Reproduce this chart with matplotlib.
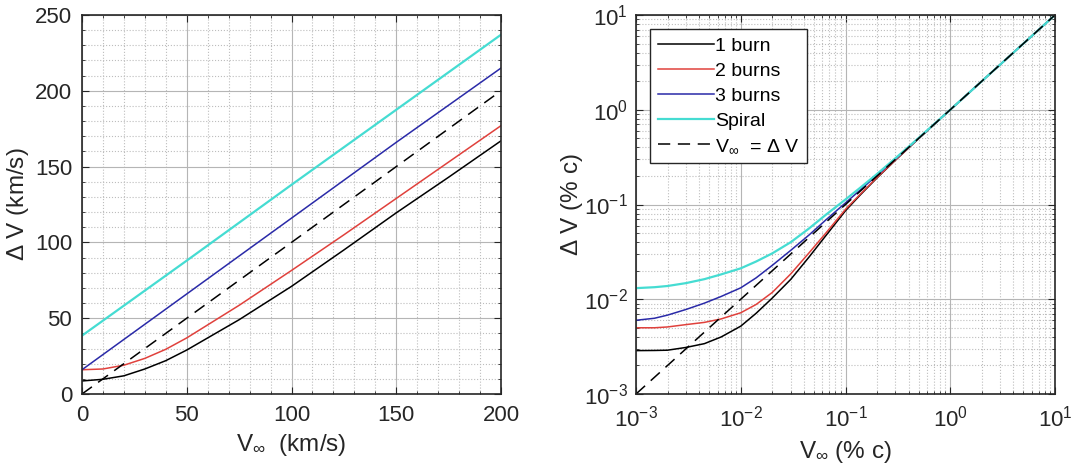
import matplotlib.pyplot as plt
from matplotlib.ticker import MultipleLocator, LogLocator, NullFormatter

plt.rcParams['font.family'] = ['Liberation Sans', 'DejaVu Sans']
plt.rcParams['mathtext.fontset'] = 'custom'
plt.rcParams['mathtext.rm'] = 'Liberation Sans'
plt.rcParams['mathtext.it'] = 'Liberation Sans:italic'
plt.rcParams['mathtext.sf'] = 'Liberation Sans'

# left panel, km/s
v_black = [0, 10, 20, 30, 40, 50, 75, 100, 125, 150, 175, 200]
dv_black = [8.6, 9.7, 12, 16.5, 22, 29, 49, 71, 95, 119.5, 143, 167]
v_red = [0, 10, 20, 30, 40, 50, 75, 100, 125, 150, 175, 200]
dv_red = [16, 16.5, 19, 23.5, 29.5, 37, 58.5, 81.5, 105, 129, 153, 177]
v_blue = [0, 50, 100, 150, 200]
dv_blue = [16, 66, 116, 166, 215]
v_spiral = [0, 50, 100, 150, 200]
dv_spiral = [38.5, 88, 138, 187.5, 237]
v_line = [0, 200]

# right panel, % c
vc = [0.001, 0.0015, 0.002, 0.003, 0.0045, 0.0065, 0.01, 0.014, 0.02, 0.03,
      0.045, 0.065, 0.1, 0.14, 0.2, 0.3, 0.5, 1, 10]
dvc_black = [0.00287, 0.00288, 0.0029, 0.0031, 0.0034, 0.0040, 0.0052, 0.0071, 0.0103, 0.0162,
             0.028, 0.047, 0.086, 0.128, 0.191, 0.294, 0.497, 1.0, 10]
dvc_red = [0.0050, 0.0050, 0.0051, 0.0054, 0.0057, 0.0062, 0.0072, 0.0088, 0.0118, 0.0185,
           0.031, 0.050, 0.089, 0.130, 0.193, 0.295, 0.498, 1.0, 10]
dvc_blue = [0.0060, 0.0063, 0.0068, 0.0078, 0.0091, 0.0107, 0.0132, 0.0168, 0.0228, 0.0328,
            0.0478, 0.0688, 0.104, 0.144, 0.204, 0.302, 0.502, 1.0, 10]
dvc_spiral = [0.0131, 0.0134, 0.0138, 0.0148, 0.0163, 0.0183, 0.0212, 0.025, 0.0305, 0.040,
              0.056, 0.078, 0.113, 0.152, 0.21, 0.308, 0.505, 1.0, 10]
vc_line = [0.001, 10]

c_black = '#000000'
c_red = '#e0413c'
c_blue = '#2a2aa8'
c_cyan = '#45dcd2'

fig = plt.figure(figsize=(10.74, 4.72), dpi=100)
ax1 = fig.add_axes([82 / 1074, 78 / 472, 419 / 1074, 379 / 472])
ax2 = fig.add_axes([636 / 1074, 78 / 472, 419 / 1074, 379 / 472])


def style(ax):
    ax.grid(True, which='major', color='#b5b5b5', linestyle='-', linewidth=0.8)
    ax.grid(True, which='minor', color='#bdbdbd', linestyle=':', linewidth=0.8)
    ax.set_axisbelow(True)
    ax.tick_params(which='both', direction='in', top=True, right=True,
                   labelsize=16, colors='#262626', labelcolor='#262626')
    ax.tick_params(which='major', length=5)
    ax.tick_params(which='minor', length=2.5)
    for s in ax.spines.values():
        s.set_color('#262626')
        s.set_linewidth(1.2)


ax1.plot(v_black, dv_black, color=c_black, lw=1.1)
ax1.plot(v_red, dv_red, color=c_red, lw=1.1)
ax1.plot(v_blue, dv_blue, color=c_blue, lw=1.1)
ax1.plot(v_spiral, dv_spiral, color=c_cyan, lw=1.6)
ax1.plot(v_line, v_line, color=c_black, lw=1.1, dashes=(8, 5))
ax1.set_xlim(0, 200)
ax1.set_ylim(0, 250)
ax1.xaxis.set_major_locator(MultipleLocator(50))
ax1.yaxis.set_major_locator(MultipleLocator(50))
ax1.xaxis.set_minor_locator(MultipleLocator(10))
ax1.yaxis.set_minor_locator(MultipleLocator(10))
style(ax1)
ax1.tick_params(axis='x', pad=8)
ax1.tick_params(axis='y', pad=7)
ax1.set_xlabel(r'V$_{\infty}$  (km/s)', fontsize=17.5, color='#262626')
ax1.set_ylabel(r'$\Delta$ V (km/s)', fontsize=17.5, color='#262626')
ax1.xaxis.set_label_coords(0.5, -0.10)
ax1.yaxis.set_label_coords(-0.122, 0.5)

ax2.plot(vc, dvc_black, color=c_black, lw=1.1, label='1 burn')
ax2.plot(vc, dvc_red, color=c_red, lw=1.1, label='2 burns')
ax2.plot(vc, dvc_blue, color=c_blue, lw=1.1, label='3 burns')
ax2.plot(vc, dvc_spiral, color=c_cyan, lw=1.6, label='Spiral')
ax2.plot(vc_line, vc_line, color=c_black, lw=1.1, dashes=(8, 5),
         label=r'V$_{\infty}$  = $\Delta$ V')
ax2.set_xscale('log')
ax2.set_yscale('log')
ax2.set_xlim(1e-3, 10)
ax2.set_ylim(1e-3, 10)
ax2.xaxis.set_major_locator(LogLocator(base=10, numticks=10))
ax2.yaxis.set_major_locator(LogLocator(base=10, numticks=10))
ax2.xaxis.set_minor_locator(LogLocator(base=10, subs=range(2, 10), numticks=20))
ax2.yaxis.set_minor_locator(LogLocator(base=10, subs=range(2, 10), numticks=20))
ax2.xaxis.set_minor_formatter(NullFormatter())
ax2.yaxis.set_minor_formatter(NullFormatter())
style(ax2)
ax2.tick_params(axis='x', pad=8)
ax2.tick_params(axis='y', pad=6)
ax2.set_xlabel(r'V$_{\infty}$ (% c)', fontsize=17.5, color='#262626')
ax2.set_ylabel(r'$\Delta$ V (% c)', fontsize=17.5, color='#262626')
ax2.xaxis.set_label_coords(0.5, -0.12)
ax2.yaxis.set_label_coords(-0.122, 0.5)

leg = ax2.legend(loc='upper left', bbox_to_anchor=(0.033, 0.962), fontsize=14,
                 fancybox=False, framealpha=1, edgecolor='#262626',
                 handlelength=2.9, handletextpad=0.05, borderpad=0.4,
                 labelspacing=0.38, borderaxespad=0)
leg.get_frame().set_linewidth(1.0)

fig.savefig('out.png', dpi=100, facecolor='white')
